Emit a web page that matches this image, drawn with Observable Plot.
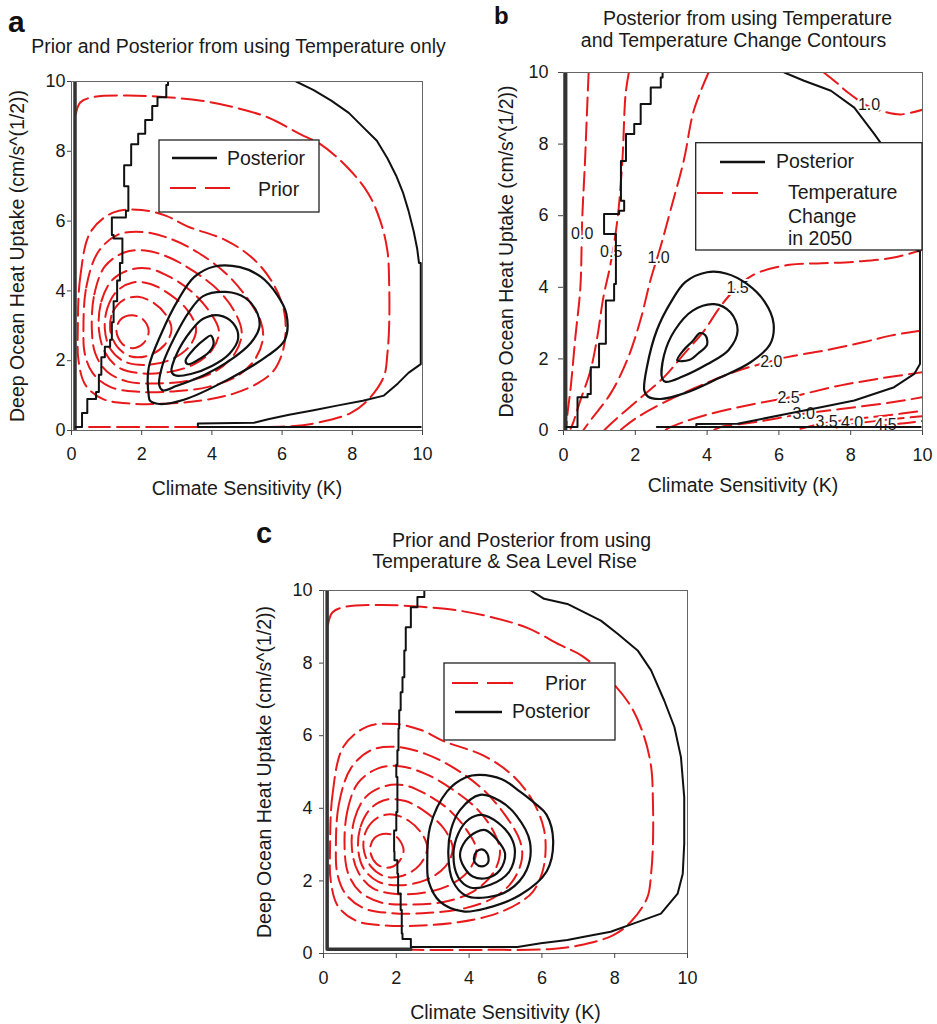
<!DOCTYPE html>
<html>
<head>
<meta charset="utf-8">
<script src="https://cdn.jsdelivr.net/npm/d3@7"></script>
<script src="https://cdn.jsdelivr.net/npm/@observablehq/plot@0.6"></script>
<style>
  html, body { margin: 0; padding: 0; background: #fff; }
  #page { position: relative; width: 937px; height: 1024px; overflow: hidden; background: #fff; }
  .panel { position: absolute; }
  #overlay { position: absolute; left: 0; top: 0; pointer-events: none; }
</style>
</head>
<body>
<div id="page">
  <div class="panel" id="pa" style="left:0px; top:60px;"></div>
  <div class="panel" id="pb" style="left:470px; top:60px;"></div>
  <div class="panel" id="pc" style="left:240px; top:580px;"></div>
</div>
<script>
// ---------- text ----------
const panelLetters = ["a", "b", "c"];
const titleA = ["Prior and Posterior from using Temperature only"];
const titleB = ["Posterior from using Temperature", "and Temperature Change Contours"];
const titleC = ["Prior and Posterior from using", "Temperature & Sea Level Rise"];
const xLabel = "Climate Sensitivity (K)";
const yLabel = "Deep Ocean Heat Uptake (cm/s^(1/2))";
const xTicks = [0, 2, 4, 6, 8, 10];
const yTicks = [0, 2, 4, 6, 8, 10];
const legendA = ["Posterior", "Prior"];
const legendB = ["Posterior", "Temperature", "Change", "in 2050"];
const legendC = ["Prior", "Posterior"];

// ---------- prior (same prior in panels a and c) ----------
const prior1 = [[0.18,2.9],[0.25,4.4],[0.55,5.7],[1.2,6.25],[2.0,6.32],[2.7,6.15],[3.3,5.85],[4.4,5.45],[5.2,4.9],[5.75,4.2],[6.05,3.45],[6.1,2.8],[6.0,2.2],[5.75,1.7],[5.3,1.35],[4.6,1.05],[3.7,0.86],[2.7,0.77],[1.7,0.77],[0.9,0.9],[0.4,1.3],[0.2,2.0]];
const prior2 = [[0.34,2.9],[0.42,4.1],[0.75,5.1],[1.3,5.6],[2.0,5.69],[2.8,5.5],[3.6,5.1],[4.4,4.5],[5.0,3.8],[5.4,3.1],[5.45,2.6],[5.2,2.0],[4.7,1.55],[3.9,1.25],[2.9,1.12],[1.9,1.11],[1.1,1.25],[0.6,1.65],[0.38,2.2]];
const prior3 = [[0.58,2.9],[0.65,3.9],[0.95,4.7],[1.5,5.1],[2.1,5.16],[2.8,4.95],[3.5,4.55],[4.2,4.0],[4.65,3.4],[4.85,2.8],[4.65,2.2],[4.1,1.7],[3.3,1.42],[2.4,1.35],[1.6,1.4],[1.0,1.7],[0.68,2.2]];
const prior4 = [[0.78,2.9],[0.85,3.7],[1.15,4.3],[1.65,4.6],[2.2,4.64],[2.8,4.4],[3.4,4.0],[3.9,3.45],[4.2,2.85],[4.0,2.3],[3.5,1.9],[2.8,1.68],[2.0,1.64],[1.35,1.8],[0.95,2.25]];
const prior5 = [[0.95,2.9],[1.02,3.5],[1.3,4.0],[1.75,4.24],[2.25,4.2],[2.8,3.9],[3.3,3.45],[3.55,2.9],[3.35,2.4],[2.8,2.02],[2.1,1.88],[1.5,1.98],[1.1,2.35]];
const prior6 = [[1.1,2.9],[1.18,3.4],[1.5,3.75],[1.9,3.83],[2.35,3.65],[2.7,3.3],[2.85,2.9],[2.65,2.45],[2.2,2.15],[1.7,2.12],[1.3,2.4]];
const prior7 = [[1.28,2.85],[1.4,3.18],[1.72,3.3],[2.02,3.2],[2.2,2.85],[2.05,2.5],[1.75,2.36],[1.45,2.48]];
const priorOuter = [[0.12,9.05],[0.25,9.4],[0.6,9.55],[1.6,9.6],[2.7,9.55],[3.7,9.45],[4.6,9.27],[5.6,8.97],[6.5,8.5],[7.1,8.2],[7.85,7.55],[8.45,6.8],[8.8,6.0],[9.0,5.15],[9.05,4.2],[9.05,3.0],[9.0,2.2],[8.9,1.55],[8.45,0.88],[7.95,0.5],[7.0,0.22],[6.2,0.12],[4.5,0.1],[2.5,0.1],[0.5,0.1]];

// ---------- panel a posterior ----------
const edgeA = [[0.1,0],[0.1,10]];
const postAOuterLeft = [[0.12,0.1],[0.3,0.1],[0.3,0.5],[0.45,0.9],[0.7,1.1],[0.78,1.6],[0.85,2.1],[0.95,2.4],[1.1,2.6],[1.15,3.1],[1.2,3.7],[1.3,4.3],[1.38,4.8],[1.45,5.5],[1.2,5.6],[1.15,6.1],[1.55,6.3],[1.62,7.0],[1.5,7.6],[1.7,8.2],[1.9,8.5],[2.1,8.9],[2.3,9.3],[2.45,9.55],[2.7,9.9],[2.75,10]];
const postAOuterRight = [[6.4,10],[6.9,9.75],[7.4,9.45],[7.9,9.1],[8.3,8.7],[8.7,8.3],[9.0,7.8],[9.25,7.3],[9.45,6.8],[9.6,6.3],[9.75,5.7],[9.85,5.2],[9.9,4.8],[9.95,4.8],[9.95,1.9],[9.6,1.65],[9.3,1.35],[8.9,1.0],[8.3,0.85],[7.6,0.72],[6.9,0.58],[6.2,0.45],[5.6,0.32],[5.2,0.22],[3.6,0.2],[3.6,0.1],[9.95,0.1]];
const postA1 = [[2.2,1.0],[2.2,1.8],[2.56,2.78],[3.03,3.73],[3.5,4.4],[4.07,4.7],[4.8,4.68],[5.4,4.4],[5.85,3.9],[6.12,3.35],[6.08,2.6],[5.6,2.15],[4.44,1.45],[3.2,0.88],[2.5,0.76],[2.24,0.85]];
const postA2 = [[2.5,1.3],[2.6,1.9],[2.95,2.7],[3.35,3.4],[3.75,3.85],[4.4,3.97],[4.95,3.8],[5.3,3.35],[5.35,2.95],[5.1,2.5],[4.5,2.0],[3.8,1.6],[3.0,1.28],[2.6,1.15]];
const postA3 = [[2.85,1.7],[3.0,2.2],[3.4,2.85],[3.75,3.2],[4.2,3.3],[4.6,3.08],[4.75,2.65],[4.5,2.2],[4.0,1.85],[3.4,1.62],[2.95,1.58]];
const postA4 = [[3.25,2.0],[3.5,2.35],[3.8,2.62],[3.97,2.72],[4.05,2.5],[3.92,2.25],[3.6,2.02],[3.32,1.9]];

// ---------- panel b posterior ----------
const edgeB = [[0.06,0],[0.06,10]];
const postBOuterLeft = [[0.08,0.1],[0.2,0.1],[0.39,0.19],[0.39,0.93],[0.67,1.02],[0.76,1.77],[0.99,2.42],[1.18,2.51],[1.18,3.63],[1.41,4.09],[1.46,5.49],[1.13,5.58],[1.13,6.05],[1.55,6.14],[1.69,6.42],[1.6,7.53],[1.74,8.28],[1.97,8.56],[2.15,9.12],[2.43,9.58],[2.71,9.86],[2.76,10]];
const postBOuterRight = [[6.15,10],[6.7,9.77],[7.45,9.49],[8.1,9.02],[8.66,8.28],[9.12,7.63],[9.49,6.79],[9.72,6.05],[9.86,5.02],[9.93,5.0],[9.93,1.86],[9.77,1.58],[9.21,1.21],[8.1,0.84],[7.17,0.65],[6.24,0.47],[5.31,0.28],[4.85,0.19],[3.7,0.18],[3.7,0.1],[2.6,0.1],[9.95,0.1]];
const postB1 = [[2.25,1.12],[2.33,1.8],[2.6,2.8],[3.0,3.6],[3.4,4.15],[4.0,4.42],[4.55,4.38],[5.1,4.1],[5.6,3.6],[5.85,3.0],[5.75,2.4],[5.2,1.9],[4.3,1.45],[3.4,1.05],[2.7,0.88],[2.35,0.95]];
const postB2 = [[2.75,1.45],[2.8,2.1],[3.1,2.8],[3.6,3.35],[4.2,3.53],[4.65,3.3],[4.85,2.8],[4.6,2.25],[4.0,1.85],[3.3,1.5],[2.85,1.36]];
const postB3 = [[3.17,1.96],[3.35,2.25],[3.6,2.5],[3.8,2.72],[3.95,2.66],[4.0,2.4],[3.75,2.15],[3.5,1.97]];

// ---------- panel b temperature change in 2050 contours ----------
const tChangeLevels = ["0.0","0.5","1.0","1.0","1.5","2.0","2.5","3.0","3.5","4.0","4.5"];
const t00 = [[0.7,10],[0.65,8.8],[0.6,7.54],[0.52,5.87],[0.47,4.0],[0.33,2.6],[0.2,1.2],[0.1,0.37],[0.08,0.1]];
const t05 = [[1.82,10],[1.73,9.4],[1.64,7.54],[1.5,5.87],[1.3,4.6],[1.11,3.72],[0.94,2.6],[0.75,1.67],[0.47,0.84],[0.28,0.25],[0.2,0.05]];
const t10 = [[4.04,10],[3.63,8.94],[3.35,7.54],[2.98,6.15],[2.7,5.12],[2.42,4.19],[2.14,3.07],[1.77,1.96],[1.31,1.03],[0.75,0.28],[0.56,0.02]];
const t10b = [[7.25,10],[7.6,9.72],[7.95,9.42],[8.5,9.05],[8.95,8.9],[9.4,8.83],[10,8.96]];
const t15 = [[1.13,0],[1.32,0.19],[2.06,0.84],[2.8,1.49],[3.36,2.14],[3.92,2.79],[4.29,3.35],[4.6,3.75],[5.0,4.15],[5.4,4.4],[6.3,4.63],[7.2,4.67],[8.2,4.72],[9.2,4.83],[10,5.05]];
const t20 = [[1.6,0.02],[1.69,0.1],[2.06,0.37],[2.99,0.88],[3.92,1.3],[4.85,1.67],[5.5,1.86],[6.23,2.05],[7.25,2.23],[8.37,2.47],[9.11,2.65],[10,2.8]];
const t25 = [[2.85,0.02],[2.99,0.1],[3.92,0.42],[5.31,0.74],[6.27,0.92],[6.69,1.02],[7.72,1.26],[8.74,1.44],[10,1.63]];
const t30 = [[4.2,0.02],[4.38,0.1],[5.31,0.23],[6.0,0.35],[6.69,0.47],[7.72,0.6],[9.11,0.78],[10,0.93]];
const t35 = [[6.6,0.05],[7.33,0.22],[8.2,0.33],[9.0,0.42],[10,0.55]];
const t40 = [[7.6,0.08],[8.04,0.18],[9.0,0.3],[10,0.4]];
const t45 = [[8.6,0.1],[8.97,0.15],[9.5,0.2],[10,0.27]];
const tLabelX = [0.52,1.33,2.65,8.51,4.85,5.79,6.27,6.69,7.33,8.04,8.97];
const tLabelY = [5.5,5.0,4.83,9.1,3.98,1.91,0.92,0.47,0.25,0.2,0.17];

// ---------- panel c posterior ----------
const edgeC = [[0.1,10],[0.1,0.12],[2.4,0.12]];
const postCOuterLeft = [[2.4,0.18],[2.4,0.4],[2.17,0.55],[2.15,1.2],[2.12,1.65],[2.05,2.2],[2.03,2.57],[1.95,2.8],[1.94,3.39],[2.0,3.9],[2.03,4.86],[2.0,5.2],[2.03,5.6],[2.06,6.2],[2.08,6.7],[2.12,7.2],[2.17,7.61],[2.22,8.35],[2.26,8.99],[2.4,9.54],[2.58,9.82],[2.77,10]];
const postCOuterRight = [[5.7,10],[6.06,9.77],[6.7,9.63],[7.62,9.17],[8.08,8.81],[8.63,8.35],[9.0,7.8],[9.36,6.97],[9.64,6.24],[9.82,5.41],[9.91,4.31],[9.91,3.03],[9.87,2.2],[9.73,1.65],[9.27,1.1],[8.53,0.83],[7.89,0.6],[7.16,0.46],[6.7,0.37],[5.97,0.28],[5.33,0.18],[2.4,0.18]];
const postC1 = [[2.85,2.5],[2.93,3.5],[3.39,4.46],[3.9,4.85],[4.3,4.92],[4.9,4.8],[5.4,4.46],[5.85,4.1],[6.13,3.82],[6.31,3.1],[6.13,2.26],[5.4,1.61],[4.48,1.25],[3.84,1.16],[3.2,1.43],[2.89,1.98]];
const postC2 = [[3.43,2.72],[3.5,3.4],[3.75,3.95],[4.3,4.37],[4.85,4.2],[5.3,3.8],[5.67,3.08],[5.58,2.3],[5.1,1.75],[4.5,1.55],[3.9,1.6],[3.55,2.0]];
const postC3 = [[3.57,2.72],[3.7,3.3],[4.0,3.7],[4.35,3.82],[4.8,3.6],[5.15,3.2],[5.26,2.8],[5.1,2.25],[4.6,1.9],[4.03,1.82],[3.7,2.1]];
const postC4 = [[3.75,2.72],[3.9,3.1],[4.2,3.35],[4.45,3.4],[4.75,3.15],[4.99,2.75],[4.85,2.3],[4.5,2.08],[4.1,2.12],[3.85,2.4]];
const postC5 = [[4.13,2.62],[4.2,2.8],[4.35,2.87],[4.5,2.75],[4.52,2.5],[4.35,2.4],[4.18,2.48]];

// ---------- helpers ----------
const FONT = "'Liberation Sans', Arial, Helvetica, sans-serif";
const RED = "#e8191b";
const BLACK = "#111";
const TEXT = "#1a1a1a";
const rows = (series) => series.flatMap(([id, pts]) => pts.map(([x, y]) => ({id, x, y})));
const pts = (arr) => arr.map(([x, y]) => ({x, y}));

const priorRows = rows([["p1",prior1],["p2",prior2],["p3",prior3],["p4",prior4],["p5",prior5],["p6",prior6],["p7",prior7]]);

function basePlot(opts, marks, axes) {
  return Plot.plot({
    ...opts,
    x: {domain: [0, 10], label: null},
    y: {domain: [0, 10], label: null},
    style: {fontFamily: FONT, fontSize: "18px", color: TEXT, background: "transparent"},
    marks: [
      ...marks,
      Plot.frame({stroke: "#666", strokeWidth: 1}),
      Plot.axisX({ticks: xTicks, tickSize: 5, tickPadding: axes.xPad, fontSize: 18, label: null, stroke: "#444"}),
      Plot.axisY({ticks: yTicks, tickSize: axes.yTick, tickPadding: axes.yPad, fontSize: 18, label: null, stroke: "#444"}),
      Plot.text([xLabel], {text: d => d, frameAnchor: "bottom", textAnchor: "middle", lineAnchor: "middle", dy: axes.xDy, fontSize: 19.5, fill: TEXT}),
      Plot.text([yLabel], {text: d => d, frameAnchor: "left", textAnchor: "middle", lineAnchor: "middle", rotate: -90, dx: axes.yDx, fontSize: 19.5, fill: TEXT})
    ]
  });
}

const priorMarks = [
  Plot.line(priorRows, {x: "x", y: "y", z: "id", curve: "catmull-rom-closed", stroke: RED, strokeWidth: 2, strokeDasharray: "17,7", clip: true}),
  Plot.line(pts(priorOuter), {x: "x", y: "y", curve: "catmull-rom", stroke: RED, strokeWidth: 2, strokeDasharray: "22,7", clip: true})
];

// ---------- panel a ----------
const plotA = basePlot(
  {width: 470, height: 450, marginLeft: 71, marginRight: 48, marginTop: 21, marginBottom: 80},
  [
    ...priorMarks,
    Plot.line(pts(edgeA), {x: "x", y: "y", stroke: "#333", strokeWidth: 3.5, clip: true}),
    Plot.line(pts(postAOuterLeft), {x: "x", y: "y", curve: "step-after", stroke: BLACK, strokeWidth: 2, clip: true}),
    Plot.line(pts(postAOuterRight), {x: "x", y: "y", stroke: BLACK, strokeWidth: 2, clip: true}),
    Plot.line(rows([["a1",postA1],["a2",postA2],["a3",postA3],["a4",postA4]]), {x: "x", y: "y", z: "id", curve: "catmull-rom-closed", stroke: BLACK, strokeWidth: 2.2})
  ],
  {xPad: 12, yTick: 4, yPad: 2, xDy: 58, yDx: -54}
);
document.getElementById("pa").appendChild(plotA);

// ---------- panel b ----------
const tRows = rows([["t00",t00],["t05",t05],["t10",t10],["t10b",t10b],["t15",t15],["t20",t20],["t25",t25],["t30",t30],["t35",t35],["t40",t40],["t45",t45]]);
const tLabels = tChangeLevels.map((v, i) => ({v, x: tLabelX[i], y: tLabelY[i]}));
const plotB = basePlot(
  {width: 467, height: 450, marginLeft: 93, marginRight: 15, marginTop: 12, marginBottom: 80},
  [
    Plot.line(tRows, {x: "x", y: "y", z: "id", curve: "catmull-rom", stroke: RED, strokeWidth: 2, strokeDasharray: "18,7", clip: true}),
    Plot.text(tLabels, {x: "x", y: "y", text: "v", fontSize: 16, fill: TEXT, stroke: "white", strokeWidth: 4, paintOrder: "stroke", clip: true}),
    Plot.line(pts(edgeB), {x: "x", y: "y", stroke: "#333", strokeWidth: 3.5, clip: true}),
    Plot.line(pts(postBOuterLeft), {x: "x", y: "y", curve: "step-after", stroke: BLACK, strokeWidth: 2, clip: true}),
    Plot.line(pts(postBOuterRight), {x: "x", y: "y", stroke: BLACK, strokeWidth: 2, clip: true}),
    Plot.line(rows([["b1",postB1],["b2",postB2],["b3",postB3]]), {x: "x", y: "y", z: "id", curve: "catmull-rom-closed", stroke: BLACK, strokeWidth: 2.2})
  ],
  {xPad: 13, yTick: 5, yPad: 10, xDy: 55, yDx: -57}
);
document.getElementById("pb").appendChild(plotB);

// ---------- panel c ----------
const plotC = basePlot(
  {width: 470, height: 444, marginLeft: 83, marginRight: 23, marginTop: 10, marginBottom: 71},
  [
    ...priorMarks,
    Plot.line(pts(edgeC), {x: "x", y: "y", stroke: "#333", strokeWidth: 3.5, clip: true}),
    Plot.line(pts(postCOuterLeft), {x: "x", y: "y", curve: "step-after", stroke: BLACK, strokeWidth: 2, clip: true}),
    Plot.line(pts(postCOuterRight), {x: "x", y: "y", stroke: BLACK, strokeWidth: 2, clip: true}),
    Plot.line(rows([["c1",postC1],["c2",postC2],["c3",postC3],["c4",postC4],["c5",postC5]]), {x: "x", y: "y", z: "id", curve: "catmull-rom-closed", stroke: BLACK, strokeWidth: 2.2})
  ],
  {xPad: 13, yTick: 4, yPad: 7, xDy: 59, yDx: -59}
);
document.getElementById("pc").appendChild(plotC);

// ---------- overlay: panel letters, titles, legends ----------
const ov = d3.select("#page").append("svg").attr("id", "overlay")
  .attr("width", 937).attr("height", 1024)
  .style("font-family", FONT).style("fill", TEXT);

const letterPos = [[8, 32, 30], [494, 24, 24], [256, 543, 29]];
panelLetters.forEach((l, i) => ov.append("text").attr("x", letterPos[i][0]).attr("y", letterPos[i][1])
  .attr("font-size", letterPos[i][2]).attr("font-weight", "bold").attr("fill", "#111").text(l));

function title(lines, xs, ys) {
  lines.forEach((t, i) => ov.append("text").attr("x", xs[i]).attr("y", ys[i]).attr("text-anchor", "middle")
    .attr("font-size", 19.5).attr("fill", TEXT).text(t));
}
title(titleA, [238.5], [53]);
title(titleB, [747.5, 733.5], [25, 47]);
title(titleC, [521.5, 504.5], [547, 568]);

function box(x, y, w, h) {
  ov.append("rect").attr("x", x).attr("y", y).attr("width", w).attr("height", h)
    .attr("fill", "white").attr("stroke", "#222").attr("stroke-width", 1.3);
}
function sample(x1, x2, y, dashed) {
  ov.append("line").attr("x1", x1).attr("x2", x2).attr("y1", y).attr("y2", y)
    .attr("stroke", dashed ? RED : BLACK).attr("stroke-width", dashed ? 2.2 : 2.4)
    .attr("stroke-dasharray", dashed ? "26,9" : null);
}
function label(t, x, y) {
  ov.append("text").attr("x", x).attr("y", y).attr("font-size", 19.5).attr("fill", TEXT).text(t);
}
// a
box(159, 140, 160, 72);
sample(172, 217, 158, false); label(legendA[0], 227, 165);
sample(170, 230, 188, true);  label(legendA[1], 258, 196);
// b
box(695.7, 142.7, 226.3, 107.3);
sample(720, 765, 162, false); label(legendB[0], 776, 168);
sample(697, 760, 193, true);
label(legendB[1], 788, 199); label(legendB[2], 788, 223); label(legendB[3], 788, 245);
// c
box(444, 663, 171, 77);
sample(452, 517, 683, true);  label(legendC[0], 545, 690);
sample(455, 502, 712, false); label(legendC[1], 512, 718);
</script>
</body>
</html>
